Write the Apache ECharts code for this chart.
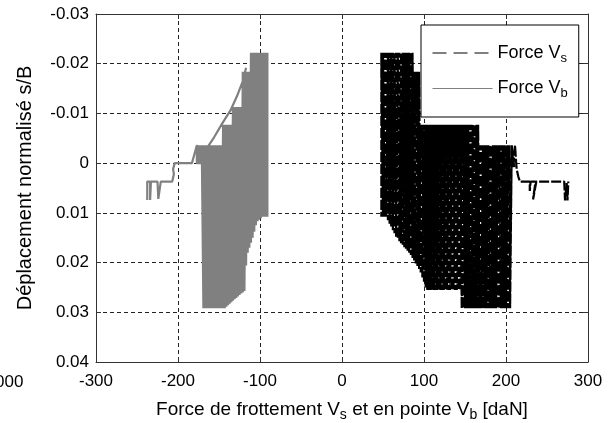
<!DOCTYPE html>
<html>
<head>
<meta charset="utf-8">
<script src="https://cdn.jsdelivr.net/npm/echarts@6/dist/echarts.min.js"></script>
<style>
html, body { margin: 0; padding: 0; background: #fff; }
#main { width: 613px; height: 423px; }
</style>
</head>
<body>
<div id="main"></div>
<script>
// valeurs : [force (daN), s/B]
var yTickLabels = ['-0.03', '-0.02', '-0.01', '0', '0.01', '0.02', '0.03', '0.04'];
var xTickLabels = ['-300', '-200', '-100', '0', '100', '200', '300'];

// Force Vb (pointe) - queue à gauche
var vbTail = [
    [-237.5, 0.0074], [-237.5, 0.0037], [-234, 0.0037], [-234, 0.0074], [-233, 0.0074],
    [-233, 0.0037], [-225, 0.0037], [-224, 0.0072], [-222, 0.0072], [-221, 0.0037],
    [-207, 0.0037], [-205, 0.0022], [-206, 0.0012], [-204, 0.0], [-183, 0.0],
    [-177, -0.0036], [-169, 0.0], [-177, 0.0]
];
// Force Vb - cycles (aller)
var vbBody = [
    [-177, -0.0036], [-175, 0.0], [-173, -0.0036], [-171, 0.0], [-169, -0.0036],
    [-167, 0.0292], [-165, -0.0036], [-163, 0.0292], [-161, -0.0036], [-159, 0.0292],
    [-157, -0.0036], [-155, 0.0292], [-153, -0.0036], [-151, 0.0292], [-149, -0.0036],
    [-147, 0.0292], [-145, -0.0077], [-143, 0.0292], [-141, -0.0077], [-139, 0.0286],
    [-137, -0.0077], [-135, 0.028], [-133, -0.0113], [-131, 0.0274], [-129, -0.0113],
    [-127, 0.0268], [-125, -0.0113], [-123, 0.0262], [-121, -0.0184], [-119, 0.0257],
    [-117, -0.0184], [-115, 0.018], [-113, -0.0184], [-111, 0.016], [-109, -0.0222],
    [-107, 0.0138], [-105, -0.0222], [-103, 0.0117], [-101, -0.0222], [-99, 0.0111],
    [-97, -0.0222], [-95, 0.0108], [-93, -0.0222], [-91, 0.0108]
];
// Force Vb - cycles (retour)
var vbBack = [
    [-91, -0.0222], [-93, 0.0108], [-95, -0.0222], [-97, 0.0108], [-99, -0.0222],
    [-101, 0.0114], [-103, -0.0222], [-105, 0.0125], [-107, -0.0222], [-109, 0.015],
    [-111, -0.0222], [-113, 0.017], [-115, -0.0184], [-117, 0.0206], [-119, -0.0184],
    [-121, 0.026], [-123, -0.0113], [-125, 0.0265], [-127, -0.0113], [-129, 0.0271],
    [-131, -0.0113], [-133, 0.0277], [-135, -0.0077], [-137, 0.0283], [-139, -0.0077],
    [-141, 0.0289], [-143, -0.0077], [-145, 0.0292], [-147, -0.0036], [-149, 0.0292],
    [-151, -0.0036], [-153, 0.0292], [-155, -0.0036], [-157, 0.0292], [-159, -0.0036],
    [-161, 0.0292], [-163, -0.0036], [-165, 0.0292], [-167, -0.0036], [-169, 0.0292],
    [-171, -0.0036], [-173, 0.0], [-175, -0.0036], [-177, 0.0]
];
var vbLoop = [
    [-156, -0.0052], [-146, -0.008], [-136, -0.0106], [-128, -0.0135], [-121, -0.0165],
    [-117, -0.0192]
];

// Force Vs (frottement) - cycles (aller-retour)
var vsBack = [
    [210, 0.0008], [207, -0.0036], [204.5, 0.0292], [202, -0.0036], [200, 0.0292],
    [198, -0.0036], [196, 0.0292], [194, -0.0036], [192, 0.0292], [190, -0.0036],
    [188, 0.0292], [186, -0.0036], [184, 0.0292], [182, -0.0036], [180, 0.0292],
    [178, -0.0036], [176, 0.0292], [174, -0.0036], [172, 0.0292], [170, -0.0036],
    [168, 0.0292], [166, -0.0077], [164, 0.0292], [162, -0.0077], [160, 0.0292],
    [158, -0.0077], [156, 0.0292], [154, -0.0077], [152, 0.0292], [150, -0.0077],
    [148, 0.0292], [146, -0.0077], [144, 0.0255], [142, -0.0077], [140, 0.0255],
    [138, -0.0077], [136, 0.0255], [134, -0.0077], [132, 0.0255], [130, -0.0077],
    [128, 0.0255], [126, -0.0077], [124, 0.0255], [122, -0.0077], [120, 0.0255],
    [118, -0.0077], [116, 0.0255], [114, -0.0077], [112, 0.0255], [110, -0.0077],
    [108, 0.0255], [106, -0.0077], [104, 0.0255], [102, -0.0077], [100, 0.024],
    [98, -0.0077], [96, 0.022], [94, -0.0184], [92, 0.0207], [90, -0.0184],
    [88, 0.0196], [86, -0.0222], [84, 0.0185], [82, -0.0222], [80, 0.0176],
    [78, -0.0222], [76, 0.0169], [74, -0.0222], [72, 0.0161], [70, -0.0222],
    [68, 0.0152], [66, -0.0222], [64, 0.0141], [62, -0.0222], [60, 0.0128],
    [58, -0.0222], [56, 0.0115], [54, -0.0222], [52, 0.0108], [50, -0.0222],
    [48, 0.0108]
];
var vsBody = [
    [48, -0.0222], [50, 0.0108], [52, -0.0222], [54, 0.0108], [56, -0.0222],
    [58, 0.0122], [60, -0.0222], [62, 0.0135], [64, -0.0222], [66, 0.0148],
    [68, -0.0222], [70, 0.0157], [72, -0.0222], [74, 0.0165], [76, -0.0222],
    [78, 0.0172], [80, -0.0222], [82, 0.018], [84, -0.0222], [86, 0.0191],
    [88, -0.0184], [90, 0.0202], [92, -0.0184], [94, 0.0213], [96, -0.0077],
    [98, 0.023], [100, -0.0077], [102, 0.025], [104, -0.0077], [106, 0.0255],
    [108, -0.0077], [110, 0.0255], [112, -0.0077], [114, 0.0255], [116, -0.0077],
    [118, 0.0255], [120, -0.0077], [122, 0.0255], [124, -0.0077], [126, 0.0255],
    [128, -0.0077], [130, 0.0255], [132, -0.0077], [134, 0.0255], [136, -0.0077],
    [138, 0.0255], [140, -0.0077], [142, 0.0255], [144, -0.0077], [146, 0.0292],
    [148, -0.0077], [150, 0.0292], [152, -0.0077], [154, 0.0292], [156, -0.0077],
    [158, 0.0292], [160, -0.0077], [162, 0.0292], [164, -0.0077], [166, 0.0292],
    [168, -0.0036], [170, 0.0292], [172, -0.0036], [174, 0.0292], [176, -0.0036],
    [178, 0.0292], [180, -0.0036], [182, 0.0292], [184, -0.0036], [186, 0.0292],
    [188, -0.0036], [190, 0.0292], [192, -0.0036], [194, 0.0292], [196, -0.0036],
    [198, 0.0292], [200, -0.0036], [202, 0.0292], [204, -0.0036], [205, 0.0292],
    [207, -0.0036], [209, 0.0008], [211, -0.0036]
];
// Force Vs - queue à droite
var vsTail = [
    [212, -0.001], [213, 0.0012], [215, 0.0027], [217, 0.0037], [229, 0.0037],
    [229, 0.0056], [230, 0.0037], [236, 0.0037], [233, 0.0073], [235, 0.0073],
    [237, 0.0037], [271, 0.0037], [272, 0.0075], [274, 0.0075], [274, 0.004],
    [275, 0.0075], [276, 0.0075], [276, 0.0037]
];

var font = "'Liberation Sans', Arial, sans-serif";

var myChart = echarts.init(document.getElementById('main'));

var gridLine = { show: true, lineStyle: { color: '#222', width: 1, type: [4, 3] } };
var frameLine = { show: true, onZero: false, lineStyle: { color: '#333', width: 1 } };
var inTick = { show: true, inside: true, length: 5, lineStyle: { color: '#333' } };
var hideSymbol = { color: 'rgba(0,0,0,0)', borderWidth: 0, opacity: 0 };

option = {
    animation: false,
    backgroundColor: '#fff',
    grid: { left: 96, top: 14, right: 25, bottom: 61, outerBoundsMode: 'none', containLabel: false },
    legend: {
        orient: 'vertical',
        left: 421,
        top: 25,
        z: 10,
        padding: [19, 11, 17, 11],
        itemGap: 15,
        itemWidth: 60,
        itemHeight: 14,
        borderColor: '#000',
        borderWidth: 1,
        backgroundColor: '#fff',
        data: [
            { name: 'Force Vs', itemStyle: hideSymbol, lineStyle: { color: '#000', width: 1, type: [14, 7] } },
            { name: 'Force Vb', itemStyle: hideSymbol, lineStyle: { color: '#808080', width: 1, type: 'solid' } }
        ],
        formatter: function (name) {
            return name === 'Force Vs' ? '{a|Force V}{s|s}' : '{a|Force V}{s|b}';
        },
        textStyle: {
            rich: {
                a: { fontFamily: font, fontSize: 18, color: '#000' },
                s: { fontFamily: font, fontSize: 13, color: '#000', padding: [10, 0, 0, 0] }
            }
        }
    },
    graphic: [{
        type: 'text',
        left: -5,
        top: 374,
        style: { text: '000', font: '17px ' + font, fill: '#000' }
    }],
    xAxis: [{
        type: 'value',
        min: -300, max: 300, interval: 100,
        position: 'bottom',
        axisLine: frameLine,
        axisTick: inTick,
        splitLine: gridLine,
        axisLabel: {
            margin: 11, fontFamily: font, fontSize: 17, color: '#000',
            formatter: function (v) { return xTickLabels[Math.round((v + 300) / 100)]; }
        },
        name: '{a|Force de frottement V}{s|s}{a| et en pointe V}{s|b}{a| [daN]}',
        nameLocation: 'middle',
        nameGap: 35,
        nameMoveOverlap: false,
        nameTextStyle: {
            rich: {
                a: { fontFamily: font, fontSize: 19, color: '#000' },
                s: { fontFamily: font, fontSize: 14, color: '#000', padding: [11, 0, 0, 0] }
            }
        }
    }, {
        type: 'value',
        min: -300, max: 300, interval: 100,
        position: 'top',
        axisLine: frameLine,
        axisTick: inTick,
        axisLabel: { show: false },
        splitLine: { show: false }
    }],
    yAxis: [{
        type: 'value',
        inverse: true,
        min: -0.03, max: 0.04, interval: 0.01,
        position: 'left',
        axisLine: frameLine,
        axisTick: inTick,
        splitLine: gridLine,
        axisLabel: {
            margin: 7, fontFamily: font, fontSize: 17, color: '#000',
            formatter: function (v) { return yTickLabels[Math.round((v + 0.03) / 0.01)]; }
        },
        name: 'Déplacement normalisé s/B',
        nameLocation: 'middle',
        nameGap: 61,
        nameMoveOverlap: false,
        nameTextStyle: { fontFamily: font, fontSize: 20, color: '#000' }
    }, {
        type: 'value',
        inverse: true,
        min: -0.03, max: 0.04, interval: 0.01,
        position: 'right',
        axisLine: frameLine,
        axisTick: inTick,
        axisLabel: { show: false },
        splitLine: { show: false }
    }],
    series: [{
        name: 'Force Vb',
        type: 'line',
        symbol: 'none',
        silent: true,
        color: '#808080',
        lineStyle: { color: '#808080', width: 2.2 },
        data: vbTail.concat(vbBody, vbBack, vbLoop)
    }, {
        name: 'Force Vs',
        type: 'line',
        symbol: 'none',
        silent: true,
        color: '#000',
        lineStyle: { color: '#000', width: 2.2, type: [10, 2] },
        data: vsBack.concat(vsBody, vsTail)
    }]
};

myChart.setOption(option);
</script>
</body>
</html>
